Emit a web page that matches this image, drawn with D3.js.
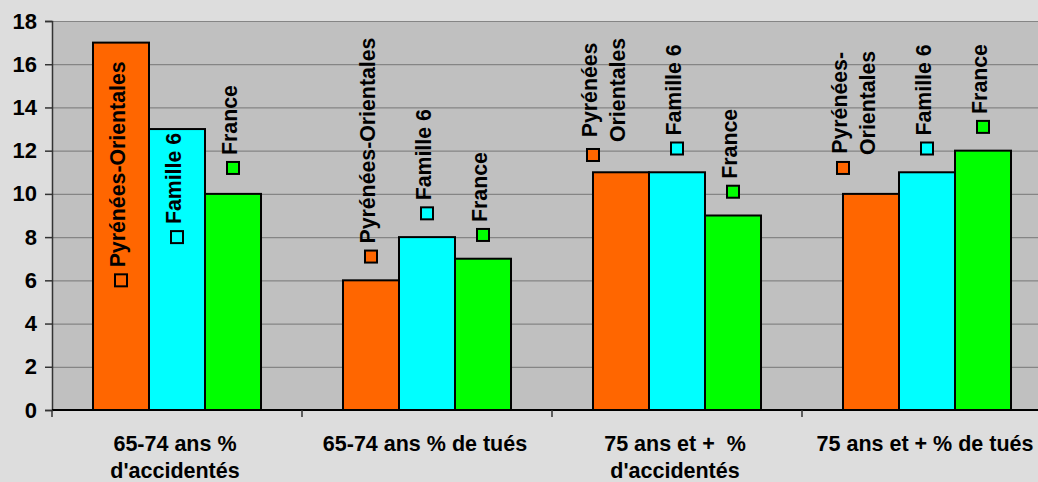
<!DOCTYPE html>
<html>
<head>
<meta charset="utf-8">
<script src="https://cdn.jsdelivr.net/npm/d3@7"></script>
<style>
  body { margin: 0; background: #dddddd; }
  svg { display: block; font-family: "Liberation Sans", Arial, sans-serif; font-weight: bold; }
</style>
</head>
<body>
<div id="chart"></div>
<script>
// categories along the x axis (each entry is a list of lines)
var groups = [
  ["65-74 ans %", "d'accidentés"],
  ["65-74 ans % de tués"],
  ["75 ans et +  %", "d'accidentés"],
  ["75 ans et + % de tués"]
];
var series = ["Pyrénées-Orientales", "Famille 6", "France"];
var colors = ["#ff6600", "#00ffff", "#00ff00"];

// bar values per series (one per group)
var poValues = [17, 6, 11, 10];
var famValues = [13, 8, 11, 11];
var frValues = [10, 7, 9, 12];

// marker (label) series values
var poMarks = [6.0, 7.1, 11.8, 11.2];
var famMarks = [8.0, 9.1, 12.1, 12.1];
var frMarks = [11.2, 8.1, 10.1, 13.1];

// label texts per group for each series
var poLabels = [["Pyrénées-Orientales"], ["Pyrénées-Orientales"], ["Pyrénées", "Orientales"], ["Pyrénées-", "Orientales"]];
var famLabels = [["Famille 6"], ["Famille 6"], ["Famille 6"], ["Famille 6"]];
var frLabels = [["France"], ["France"], ["France"], ["France"]];

var yTicks = [0, 2, 4, 6, 8, 10, 12, 14, 16, 18];

var barValues = [poValues, famValues, frValues];
var markValues = [poMarks, famMarks, frMarks];
var labelTexts = [poLabels, famLabels, frLabels];

// the two-line labels sit at the left edge of their bar (in bar widths)
var markShift = [[0, 0, -0.5, -0.5], [0, 0, 0, 0], [0, 0, 0, 0]];

var width = 1038, height = 482;
var plotLeft = 52, plotRight = 1052, plotTop = 21, plotBottom = 410;

var svg = d3.select("#chart").append("svg")
    .attr("width", width)
    .attr("height", height);

svg.append("rect")
    .attr("width", width).attr("height", height)
    .attr("fill", "#dddddd");

var x0 = d3.scaleBand()
    .domain(d3.range(groups.length))
    .range([plotLeft, plotRight])
    .padding(0);

var x1 = d3.scaleBand()
    .domain(d3.range(series.length))
    .range([0, x0.bandwidth()])
    .paddingInner(0)
    .paddingOuter(0.732);

var y = d3.scaleLinear()
    .domain([0, 18])
    .range([plotBottom, plotTop]);

// plot area
svg.append("rect")
    .attr("x", plotLeft).attr("y", plotTop)
    .attr("width", plotRight - plotLeft).attr("height", plotBottom - plotTop)
    .attr("fill", "#c0c0c0");

// gridlines
svg.append("g")
    .attr("transform", "translate(" + plotLeft + ",0)")
    .call(d3.axisLeft(y).tickValues(yTicks).tickSize(-(plotRight - plotLeft)).tickFormat(""))
    .call(function(g) {
      g.select(".domain").remove();
      g.selectAll("line").attr("stroke", "#858585").attr("stroke-width", 1.2);
    });

// flatten bars
var bars = [];
series.forEach(function(s, si) {
  groups.forEach(function(gr, gi) {
    bars.push({ g: gi, s: si, v: barValues[si][gi], m: markValues[si][gi],
                lab: labelTexts[si][gi], shift: markShift[si][gi] });
  });
});

// center x of the marker for a bar
function markX(d) {
  return x0(d.g) + x1(d.s) + x1.bandwidth() / 2 + d.shift * x1.bandwidth();
}

svg.append("g").selectAll("rect")
    .data(bars)
  .enter().append("rect")
    .attr("x", function(d) { return x0(d.g) + x1(d.s); })
    .attr("y", function(d) { return y(d.v); })
    .attr("width", x1.bandwidth())
    .attr("height", function(d) { return y(0) - y(d.v); })
    .attr("fill", function(d) { return colors[d.s]; })
    .attr("stroke", "#000")
    .attr("stroke-width", 2);

// y axis
svg.append("g")
    .attr("transform", "translate(" + plotLeft + ",0)")
    .call(d3.axisLeft(y).tickValues(yTicks).tickSize(7).tickPadding(8))
    .call(function(g) {
      g.select(".domain").attr("stroke", "#333").attr("stroke-width", 1.5);
      g.selectAll("line").attr("stroke", "#333").attr("stroke-width", 1.5);
      g.selectAll("text")
        .attr("font-size", 22)
        .attr("font-weight", "bold")
        .attr("font-family", "Liberation Sans, Arial, sans-serif")
        .attr("fill", "#000");
    });

// x axis line and ticks
var xt = svg.append("g");
xt.append("line")
    .attr("x1", plotLeft).attr("x2", plotRight)
    .attr("y1", plotBottom).attr("y2", plotBottom)
    .attr("stroke", "#000").attr("stroke-width", 2);
xt.selectAll(".tick")
    .data(d3.range(groups.length))
  .enter().append("line")
    .attr("x1", function(d) { return x0(d); })
    .attr("x2", function(d) { return x0(d); })
    .attr("y1", plotBottom).attr("y2", plotBottom + 7)
    .attr("stroke", "#333").attr("stroke-width", 1.5);

// x labels
svg.append("g").selectAll("text")
    .data(groups)
  .enter().append("text")
    .attr("text-anchor", "middle")
    .attr("font-size", 21.5)
    .attr("fill", "#000")
    .each(function(lines, i) {
      var t = d3.select(this);
      lines.forEach(function(l, li) {
        t.append("tspan")
          .attr("x", x0(i) + x0.bandwidth() / 2 - 2)
          .attr("y", 451 + li * 27)
          .style("white-space", "pre")
          .text(l);
      });
    });

// markers
svg.append("g").selectAll("rect")
    .data(bars)
  .enter().append("rect")
    .attr("x", function(d) { return markX(d) - 6; })
    .attr("y", function(d) { return y(d.m) - 6; })
    .attr("width", 12).attr("height", 12)
    .attr("fill", function(d) { return colors[d.s]; })
    .attr("stroke", "#000")
    .attr("stroke-width", 2);

// rotated labels above markers
var fs = 21.3;
svg.append("g").selectAll("g")
    .data(bars)
  .enter().append("g")
    .attr("transform", function(d) {
      return "translate(" + (markX(d) - 3) + "," + (y(d.m) - 13) + ") rotate(-90)";
    })
    .each(function(d) {
      var g = d3.select(this);
      var t = g.append("text")
        .attr("font-size", fs)
        .attr("fill", "#000")
        .attr("dy", "0.35em");
      if (d.lab.length == 1) {
        t.attr("text-anchor", "start").text(d.lab[0]);
      } else {
        // multi-line: lines centered on the longest one
        t.attr("text-anchor", "middle");
        var spans = d.lab.map(function(l, li) {
          return t.append("tspan").attr("y", li * 28).attr("dy", "0.35em").text(l);
        });
        var w = d3.max(spans, function(s) { return s.node().getComputedTextLength(); });
        spans.forEach(function(s) { s.attr("x", w / 2); });
      }
    });
</script>
</body>
</html>
